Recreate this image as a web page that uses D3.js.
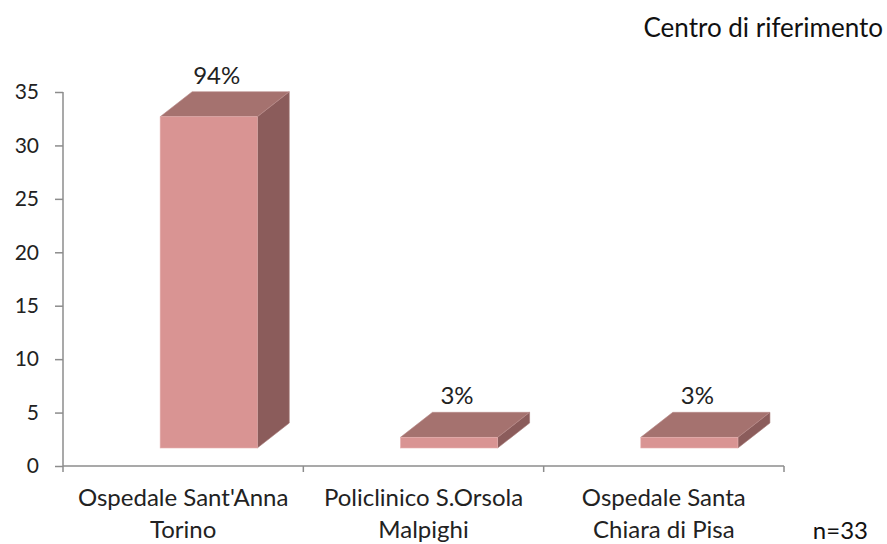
<!DOCTYPE html>
<html><head><meta charset="utf-8">
<script src="https://cdn.jsdelivr.net/npm/d3@7"></script>
<style>body{margin:0;background:#fff}svg{display:block}</style>
</head><body>
<svg id="c" width="887" height="544"></svg>
<script>
const categories = [["Ospedale Sant'Anna","Torino"],["Policlinico S.Orsola","Malpighi"],["Ospedale Santa","Chiara di Pisa"]];
const values = [31, 1, 1];
const percentLabels = ["94%","3%","3%"];
const yTicks = [0,5,10,15,20,25,30,35];
const title = "Centro di riferimento";
const note = "n=33";

const svg = d3.select("#c");
const font = "Lato, 'Open Sans', sans-serif";
const x0 = 63, x1 = 784, yBase = 466, yTop = 92;
const x = d3.scaleBand().domain(d3.range(values.length)).range([x0, x1]).paddingInner(0).paddingOuter(0);
const y = d3.scaleLinear().domain([0, 35]).range([yBase, yTop]);
const depthX = 32, depthY = 25, floorOff = 18;
const frontStart = 97/240, frontW = 97/240;

// axes
const axisColor = "#8c8c8c";
const yAxis = d3.axisLeft(y).tickValues(yTicks).tickSize(8).tickPadding(16);
const gy = svg.append("g").attr("transform", `translate(${x0},0)`).call(yAxis);
gy.select(".domain").attr("stroke", axisColor).attr("stroke-width", 1.5).attr("d", `M0,${yTop}V${yBase+6}`);
gy.selectAll(".tick line").attr("stroke", axisColor).attr("stroke-width", 1.5);
gy.selectAll(".tick text").attr("fill", "#222").style("font-family", font).style("font-size", "21px");

const gx = svg.append("g").attr("transform", `translate(0,${yBase})`);
gx.append("line").attr("x1", x0).attr("x2", x1).attr("y1", 0).attr("y2", 0).attr("stroke", axisColor).attr("stroke-width", 1.5);
const bounds = d3.range(values.length + 1).map(i => i < values.length ? x(i) : x(i-1) + x.bandwidth());
gx.selectAll("line.t").data(bounds.slice(1)).enter().append("line")
  .attr("x1", d => d).attr("x2", d => d).attr("y1", 0).attr("y2", 6)
  .attr("stroke", axisColor).attr("stroke-width", 1.5);

// bars
const bw = x.bandwidth();
const bars = svg.append("g").selectAll("g").data(values).enter().append("g");
bars.each(function(v, i) {
  const g = d3.select(this);
  const fx = x(i) + bw * frontStart, fw = bw * frontW;
  const ft = y(v) - floorOff, fb = y(0) - floorOff;
  // side
  g.append("path").attr("d", `M${fx+fw},${ft}L${fx+fw+depthX},${ft-depthY}L${fx+fw+depthX},${fb-depthY}L${fx+fw},${fb}Z`)
    .attr("fill", "#8b5c5b").attr("stroke", "#a77a79").attr("stroke-width", 0.6);
  // top
  g.append("path").attr("d", `M${fx},${ft}L${fx+depthX},${ft-depthY}L${fx+fw+depthX},${ft-depthY}L${fx+fw},${ft}Z`)
    .attr("fill", "#a5726f").attr("stroke", "#b88b89").attr("stroke-width", 0.6);
  // front
  g.append("rect").attr("x", fx).attr("y", ft).attr("width", fw).attr("height", fb - ft)
    .attr("fill", "#d99493").attr("stroke", "#e6b0af").attr("stroke-width", 0.6);
  g.append("text").attr("x", fx + fw/2 + 8).attr("y", ft - depthY - 8)
    .attr("text-anchor", "middle").attr("fill", "#222")
    .style("font-family", font).style("font-size", "24px").text(percentLabels[i]);
});

// category labels
const cl = svg.append("g").selectAll("text").data(categories).enter().append("text")
  .attr("text-anchor", "middle").attr("fill", "#222")
  .style("font-family", font).style("font-size", "24px");
cl.each(function(lines, i) {
  const t = d3.select(this);
  lines.forEach((s, k) => t.append("tspan").attr("x", x(i) + bw/2).attr("y", 506 + k*32).text(s));
});

svg.append("text").attr("x", 883).attr("y", 37).attr("text-anchor", "end").attr("fill", "#111")
  .style("font-family", font).style("font-size", "26px").text(title);
svg.append("text").attr("x", 868).attr("y", 539).attr("text-anchor", "end").attr("fill", "#111")
  .style("font-family", font).style("font-size", "24px").text(note);
</script>
</body></html>
